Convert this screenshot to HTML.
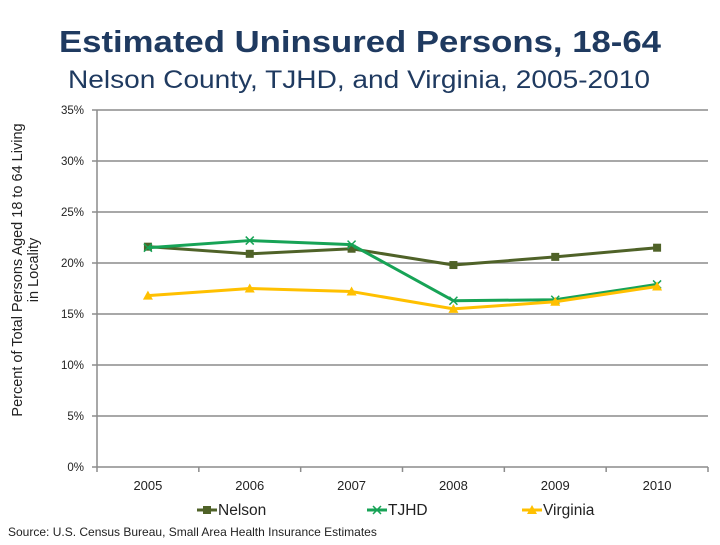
<!DOCTYPE html>
<html><head><meta charset="utf-8"><style>
body{margin:0;background:#fff;width:720px;height:540px;overflow:hidden;font-family:"Liberation Sans",Arial,sans-serif}
</style></head><body>
<svg id="c" width="720" height="540" xmlns="http://www.w3.org/2000/svg">
<text x="360" y="52" text-anchor="middle" font-size="31" font-weight="bold" fill="#1f3a60" textLength="602" lengthAdjust="spacingAndGlyphs">Estimated Uninsured Persons, 18-64</text>
<text x="359" y="88" text-anchor="middle" font-size="25" fill="#1f3a60" textLength="582" lengthAdjust="spacingAndGlyphs">Nelson County, TJHD, and Virginia, 2005-2010</text>
<text transform="translate(22,270) rotate(-90)" text-anchor="middle" font-size="14.5" fill="#222"><tspan x="0" dy="0">Percent of Total Persons Aged 18 to 64 Living</tspan><tspan x="0" dy="16">in Locality</tspan></text>
<text x="8" y="536" font-size="12" fill="#222">Source: U.S. Census Bureau, Small Area Health Insurance Estimates</text>
<g id="grid"></g><g id="axes"></g><g id="series"></g><g id="legend"></g>
</svg>
<script>
const years=["2005","2006","2007","2008","2009","2010"];
const yTicks=[0,5,10,15,20,25,30,35];
const nelson=[21.6,20.9,21.4,19.8,20.6,21.5];
const tjhd=[21.5,22.2,21.8,16.3,16.4,17.9];
const virginia=[16.8,17.5,17.2,15.5,16.2,17.7];
const NS="http://www.w3.org/2000/svg";
const L=97,R=708,T=110,B=467,maxV=35;
const xs=i=>L+(R-L)/years.length*(i+0.5);
const ys=v=>B-(B-T)*v/maxV;
function mk(t,a,p){const e=document.createElementNS(NS,t);for(const k in a)e.setAttribute(k,a[k]);p.appendChild(e);return e;}
const grid=document.getElementById('grid'),axes=document.getElementById('axes'),ser=document.getElementById('series'),leg=document.getElementById('legend');
yTicks.forEach(v=>{
 const y=ys(v);
 const g=mk('line',{x1:L,x2:R,y1:y,y2:y,stroke:'#8c8c8c','stroke-width':1.5},grid);
 
 
 mk('line',{x1:L-5,x2:L,y1:y,y2:y,stroke:'#8c8c8c','stroke-width':1.5},axes);
 const t=mk('text',{x:L-13,y:y+4,'text-anchor':'end','font-size':11.5,fill:'#222'},axes);
 t.textContent=v+'%';
 
 
});
const ya=mk('line',{x1:L,x2:L,y1:T,y2:B,stroke:'#8c8c8c','stroke-width':1.5},axes);


for(let i=0;i<=years.length;i++){const x=L+(R-L)/years.length*i;mk('line',{x1:x,x2:x,y1:B,y2:B+5,stroke:'#8c8c8c','stroke-width':1.5},axes);}
years.forEach((yr,i)=>{
 const t=mk('text',{x:xs(i),y:B+23,'text-anchor':'middle','font-size':13,fill:'#222'},axes);
 t.textContent=yr;
 
 
});
function marker(kind,x,y,col,p){
 if(kind==='sq')return mk('rect',{x:x-4,y:y-4,width:8,height:8,fill:col},p);
 if(kind==='x'){const g=mk('g',{},p);mk('path',{d:`M${x-4} ${y-4}L${x+4} ${y+4}M${x-4} ${y+4}L${x+4} ${y-4}`,stroke:col,'stroke-width':1.5},g);return g;}
 return mk('path',{d:`M${x} ${y-5}L${x+5} ${y+4}L${x-5} ${y+4}Z`,fill:col},p);
}
const S=[["Nelson",nelson,'#4f6228','sq'],["TJHD",tjhd,'#17a356','x'],["Virginia",virginia,'#ffc000','tri']];
S.forEach(([name,vals,col,mkr])=>{
 const g=mk('g',{},ser);
 
 
 const pl=mk('polyline',{points:vals.map((v,i)=>xs(i)+','+ys(v)).join(' '),fill:'none',stroke:col,'stroke-width':3,'stroke-linejoin':'round'},g);
 
 
 vals.forEach((v,i)=>{const m=marker(mkr,xs(i),ys(v),col,g);
  
  });
});
const lx=[197,367,522];
S.forEach(([name,vals,col,mkr],k)=>{
 const g=mk('g',{},leg);
 
 
 const x=lx[k],y=510;
 mk('line',{x1:x,x2:x+20,y1:y,y2:y,stroke:col,'stroke-width':3},g);
 marker(mkr,x+10,y,col,g);
 const t=mk('text',{x:x+21,y:y+5,'font-size':15.5,fill:'#222'},g);t.textContent=name;
});
</script>
</body></html>
